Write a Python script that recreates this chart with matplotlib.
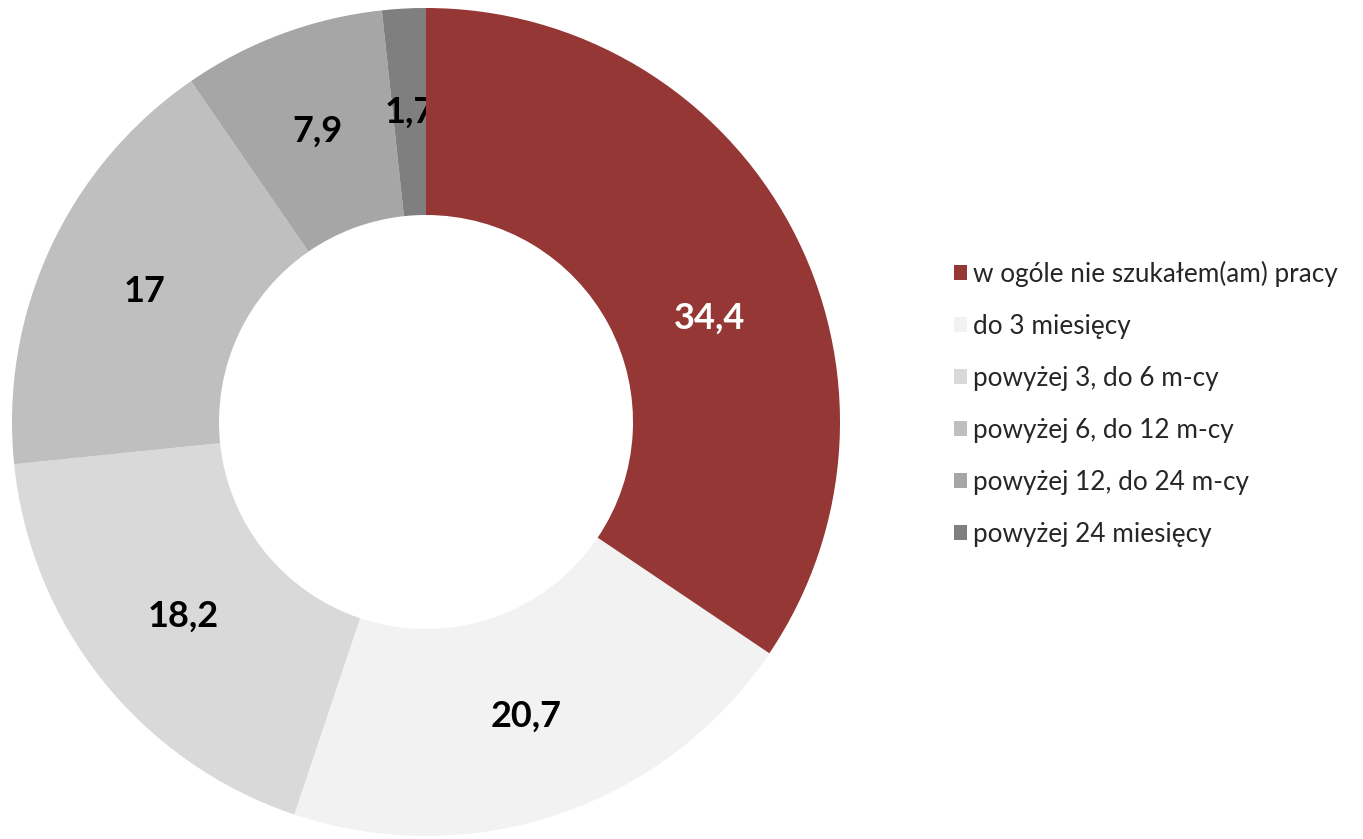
import numpy as np
import matplotlib.pyplot as plt
from matplotlib.patches import Patch

categories = ["w ogóle nie szukałem(am) pracy", "do 3 miesięcy",
              "powyżej 3, do 6 m-cy", "powyżej 6, do 12 m-cy",
              "powyżej 12, do 24 m-cy", "powyżej 24 miesięcy"]
values = [34.4, 20.7, 18.2, 17, 7.9, 1.7]
value_labels = ["34,4", "20,7", "18,2", "17", "7,9", "1,7"]
colors = ["#953735", "#F2F2F2", "#D9D9D9", "#BFBFBF", "#A6A6A6", "#7F7F7F"]

plt.rcParams['font.family'] = ['Lato', 'DejaVu Sans']

W, H = 1363, 839
fig = plt.figure(figsize=(W / 100, H / 100), dpi=100)
R = 414
cx, cy = 426, 422
ax = fig.add_axes([(cx - R) / W, (H - cy - R) / H, 2 * R / W, 2 * R / H])

wedges, _ = ax.pie(values, colors=colors, startangle=90, counterclock=False,
                   radius=1, wedgeprops=dict(width=0.5, linewidth=0))
# red slice sits on top of the labels (the "1,7" label is clipped by it)
wedges[0].set_zorder(3)
for w in wedges[1:]:
    w.set_zorder(1)

for i, w in enumerate(wedges):
    ang = np.deg2rad((w.theta1 + w.theta2) / 2)
    r = 0.75
    if i == 0:
        # label moved in the original chart
        ang = np.deg2rad(20)
        r = 0.73
    x, y = r * np.cos(ang), r * np.sin(ang)
    col = "white" if i == 0 else "black"
    ax.text(x, y, value_labels[i], ha="center", va="center", fontsize=26,
            fontweight="bold", color=col, zorder=4 if i == 0 else 2)

ax.set_xlim(-1, 1)
ax.set_ylim(-1, 1)
ax.axis("off")

handles = [Patch(facecolor=c, edgecolor="none") for c in colors]
fig.legend(handles, categories, loc="upper left",
           bbox_to_anchor=(954 / W, 1 - 261 / H), frameon=False,
           borderpad=0, borderaxespad=0,
           fontsize=18.8, handlelength=0.5, handleheight=0.5,
           handletextpad=0.22, labelspacing=1.03, labelcolor="#262626")

fig.savefig("out.png", dpi=100)
